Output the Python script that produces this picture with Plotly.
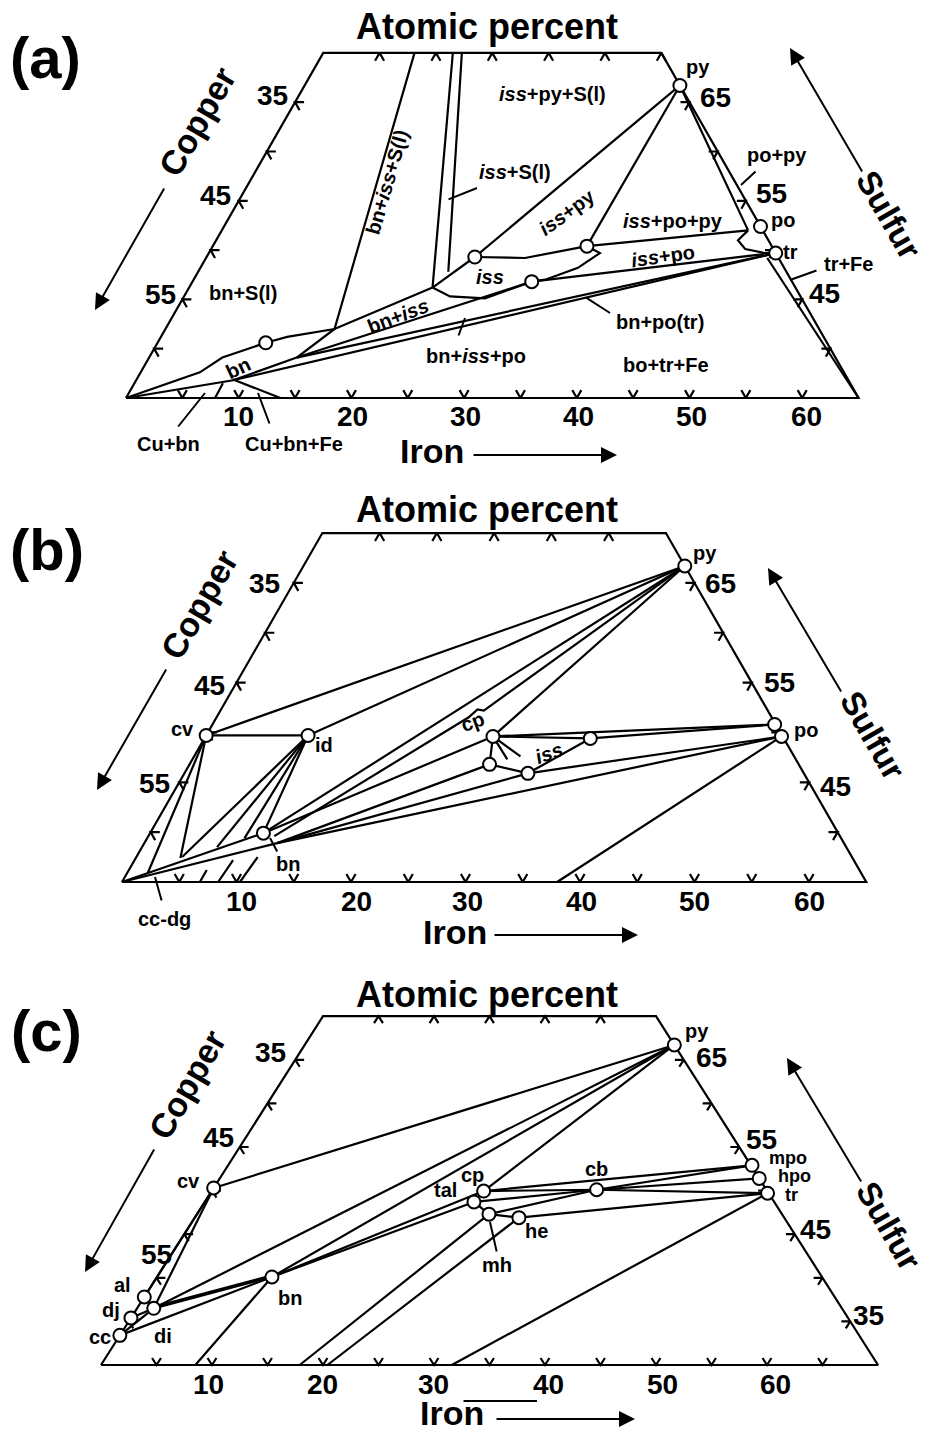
import plotly.graph_objects as go

W, H = 930, 1433
FONT = "Liberation Sans, Arial, sans-serif"

# ---------------- data: compositions (Fe at.%, S at.%) ----------------
# panel (a)
A_NODES = {
    "py": (33.3, 66.7), "po": (47.6, 52.4), "tr": (50.3, 49.7),
    "iss1": (23.8, 49.3), "iss2": (33.2, 50.4), "iss3": (30.1, 46.8),
    "bn": (9.6, 40.6),
}
A_LINES = [
    [(0, 35), (5.25, 37.6), (6.5, 39.1), (9.6, 40.6), (11.2, 41.2), (15.0, 42.0), (21.6, 46.2)],
    [(0, 35), (8.6, 36.8), (13.1, 39.1)],
    [(8.1, 70), (15.0, 42.0), (13.1, 39.1)],
    [(11.5, 70), (21.6, 46.2)],
    [(12.3, 70), (22.2, 47.8)],
    [(21.6, 46.2), (23.8, 49.3)],
    [(21.6, 46.2), (23.6, 45.3), (26.8, 45.1), (30.1, 46.8)],
    [(30.1, 46.8), (31.2, 47.0), (33.5, 48.2), (34.7, 49.7), (33.2, 50.4)],
    [(23.8, 49.3), (28.3, 49.2), (33.2, 50.4)],
    [(33.3, 66.7), (23.8, 49.3)],
    [(33.3, 66.7), (33.2, 50.4)],
    [(33.2, 50.4), (46.7, 52.0)],
    [(33.3, 66.7), (46.7, 52.0)],
    [(46.7, 52.0), (46.3, 51.0), (47.4, 50.1), (49.3, 49.7), (50.3, 49.7)],
    [(30.1, 46.8), (49.3, 49.6)],
    [(13.1, 39.1), (30.1, 46.8)],
    [(13.1, 39.1), (50.3, 49.7)],
    [(8.6, 36.8), (50.3, 49.7)],
    [(49.8, 49.2), (65, 35)],
    [(7.9, 35), (7.85, 36.5)],
    [(8.5, 36.9), (13.7, 35)],
]

# panel (b)
B_NODES = {
    "py": (33.3, 66.7), "cv": (0.0, 49.7), "id": (8.9, 49.7), "bn": (9.9, 39.9),
    "cp": (25.1, 49.6), "issa": (33.7, 49.4), "issb": (26.2, 46.8), "issc": (30.0, 45.9),
    "po1": (49.1, 50.8), "po2": (50.3, 49.6),
}
B_LINES = [
    [(0.0, 49.7), (8.9, 49.7)],
    [(0.0, 49.7), (33.3, 66.7)],
    [(8.9, 49.7), (33.3, 66.7)],
    [(0.0, 49.7), (1.8, 35.9)],
    [(0.0, 49.7), (3.9, 37.4)],
    [(8.9, 49.7), (4.0, 37.5)],
    [(8.9, 49.7), (6.55, 38.5)],
    [(8.9, 49.7), (8.5, 39.4)],
    [(8.9, 49.7), (9.9, 39.9)],
    [(0, 35), (9.9, 39.9)],
    [(0, 35), (11.6, 38.9), (50.3, 49.6)],
    [(9.9, 39.9), (33.3, 66.7)],
    [(11.0, 39.6), (22.0, 51.5), (22.4, 52.3), (23.0, 52.2), (33.3, 66.7)],
    [(9.9, 39.9), (25.1, 49.6)],
    [(25.1, 49.6), (33.3, 66.7)],
    [(25.1, 49.6), (49.1, 50.8)],
    [(25.1, 49.6), (33.7, 49.4), (49.1, 50.8)],
    [(25.1, 49.6), (26.2, 46.8), (30.0, 45.9), (33.7, 49.4)],
    [(25.1, 49.6), (27.5, 47.3)],
    [(25.1, 49.6), (28.5, 47.6)],
    [(30.0, 45.9), (50.3, 49.6)],
    [(11.6, 38.9), (26.2, 46.8)],
    [(11.6, 38.9), (30.0, 45.9)],
    [(38.0, 35), (50.3, 49.6)],
    [(6.8, 35), (6.8, 36.2)],
    [(8.4, 35), (8.6, 37.2)],
    [(10.3, 35), (10.6, 37.5)],
]

# panel (c)
C_NODES = {
    "py": (33.3, 66.7), "cv": (0.0, 50.3), "al": (0.0, 37.8), "dj": (0.0, 35.4),
    "cc": (0.0, 33.4), "di": (1.5, 36.5), "bn": (10.35, 40.1), "tal": (24.25, 48.7),
    "cp": (24.5, 49.95), "mh": (26.3, 47.3), "he": (29.2, 46.9), "cb": (34.6, 50.1),
    "mpo": (47.2, 52.9), "hpo": (48.6, 51.4), "tr": (50.2, 49.7),
}
C_LINES = [
    [(0.0, 50.3), (33.3, 66.7)],
    [(0.0, 50.3), (0.0, 37.8)],
    [(0.0, 50.3), (1.5, 36.5)],
    [(0.0, 33.4), (1.5, 36.5)],
    [(0.0, 35.4), (1.5, 36.5)],
    [(0.0, 37.8), (1.5, 36.5)],
    [(0.0, 33.4), (10.35, 40.1)],
    [(1.5, 36.5), (10.35, 40.1)],
    [(1.5, 36.7), (10.35, 40.3)],
    [(1.5, 36.5), (33.3, 66.7)],
    [(10.35, 40.1), (33.3, 66.7)],
    [(10.35, 40.1), (24.5, 49.95)],
    [(10.35, 40.1), (24.25, 48.7)],
    [(8.5, 30), (10.35, 40.1)],
    [(17.9, 30), (26.3, 47.3)],
    [(20.4, 30), (29.2, 46.9)],
    [(31.6, 30), (50.2, 49.7)],
    [(24.5, 49.95), (33.3, 66.7)],
    [(24.5, 49.95), (47.2, 52.9)],
    [(24.5, 49.95), (34.6, 50.1)],
    [(34.6, 50.1), (47.2, 52.9)],
    [(34.6, 50.1), (48.6, 51.4)],
    [(34.6, 50.1), (50.2, 49.7)],
    [(24.25, 48.7), (34.6, 50.1)],
    [(24.25, 48.7), (26.3, 47.3)],
    [(26.3, 47.3), (29.2, 46.9)],
    [(29.2, 46.9), (50.2, 49.7)],
    [(26.3, 47.3), (34.6, 50.1)],
    [(24.5, 49.95), (24.25, 48.7)],
]

# tick positions (Fe on bottom/top edges, S on left/right edges)
A_TICKS = dict(bottom=[5, 10, 15, 20, 25, 30, 35, 40, 45, 50, 55, 60], top=[5, 10, 15, 20, 25, 30],
               left=[65, 60, 55, 50, 45, 40], right=[65, 60, 55, 50, 45, 40])
B_TICKS = dict(bottom=[5, 10, 15, 20, 25, 30, 35, 40, 45, 50, 55, 60], top=[5, 10, 15, 20, 25],
               left=[65, 60, 55, 50, 45, 40], right=[65, 60, 55, 50, 45, 40])
C_TICKS = dict(bottom=[5, 10, 15, 20, 25, 30, 35, 40, 45, 50, 55, 60, 65], top=[5, 10, 15, 20, 25],
               left=[65, 60, 55, 50, 45, 40, 35], right=[65, 60, 55, 50, 45, 40, 35])

BOTTOM_LABELS = ["10", "20", "30", "40", "50", "60"]

# panel frames (pixel calibration of the composition grid)
PANELS = [
    dict(name="a", X0=126, kx=11.27, Ybot=398, ky=9.86, S0=35, Stop=70, top=0, bot=470,
         nodes=A_NODES, lines=A_LINES, ticks=A_TICKS),
    dict(name="b", X0=122, kx=11.45, Ybot=882, ky=9.97, S0=35, Stop=70, top=470, bot=955,
         nodes=B_NODES, lines=B_LINES, ticks=B_TICKS),
    dict(name="c", X0=101, kx=11.1, Ybot=1365, ky=8.72, S0=30, Stop=70, top=955, bot=1433,
         nodes=C_NODES, lines=C_LINES, ticks=C_TICKS),
]


def proj(fe, s, S0):
    return fe + 0.5 * (s - S0), s


def tick_polys(t, S0, St, d=0.8):
    polys = []
    for fe in t["bottom"]:
        polys.append([(fe, S0 + d), (fe, S0), (fe - d, S0 + d)])
    for fe in t["top"]:
        polys.append([(fe, St - d), (fe, St), (fe + d, St - d)])
    for s in t["left"]:
        polys.append([(d, s), (0, s), (d, s - d)])
    for s in t["right"]:
        polys.append([(100 - s - d, s), (100 - s, s), (100 - s, s - d)])
    return polys


fig = go.Figure()
layout_axes = {}
for i, p in enumerate(PANELS, start=1):
    xa = "x" if i == 1 else f"x{i}"
    ya = "y" if i == 1 else f"y{i}"
    S0, St = p["S0"], p["Stop"]
    frame = [[(0, S0), (100 - S0, S0), (100 - St, St), (0, St), (0, S0)]]
    polys = frame + tick_polys(p["ticks"], S0, St) + p["lines"]
    xs, ys = [], []
    for poly in polys:
        for fe, s in poly:
            x, y = proj(fe, s, S0)
            xs.append(x)
            ys.append(y)
        xs.append(None)
        ys.append(None)
    fig.add_trace(go.Scatter(x=xs, y=ys, mode="lines", xaxis=xa, yaxis=ya,
                             line=dict(color="black", width=2.2), hoverinfo="skip",
                             showlegend=False))
    nx, ny = [], []
    for fe, s in p["nodes"].values():
        x, y = proj(fe, s, S0)
        nx.append(x)
        ny.append(y)
    fig.add_trace(go.Scatter(x=nx, y=ny, mode="markers", xaxis=xa, yaxis=ya,
                             marker=dict(size=13, color="white", line=dict(color="black", width=2)),
                             hoverinfo="skip", showlegend=False, cliponaxis=False))
    xr = [(0 - p["X0"]) / p["kx"], (W - p["X0"]) / p["kx"]]
    yr = [S0 + (p["Ybot"] - p["bot"]) / p["ky"], S0 + (p["Ybot"] - p["top"]) / p["ky"]]
    key = "" if i == 1 else str(i)
    layout_axes["xaxis" + key] = dict(domain=[0, 1], range=xr, visible=False, fixedrange=True,
                                      anchor=ya)
    layout_axes["yaxis" + key] = dict(domain=[1 - p["bot"] / H, 1 - p["top"] / H], range=yr,
                                      visible=False, fixedrange=True, anchor=xa)

ann = []


def label(px, py, text, size=20, angle=0, bold=True):
    t = f"<b>{text}</b>" if bold else text
    ann.append(dict(x=px / W, y=1 - py / H, xref="paper", yref="paper", text=t,
                    showarrow=False, textangle=angle, xanchor="center", yanchor="middle",
                    font=dict(family=FONT, size=size, color="black")))


def arrow(x0, y0, x1, y1, head=True, width=2):
    # tail (x0,y0) -> head (x1,y1), pixels
    ann.append(dict(x=x1 / W, y=1 - y1 / H, xref="paper", yref="paper", text="",
                    showarrow=True, ax=x0 - x1, ay=y0 - y1, axref="pixel", ayref="pixel",
                    arrowhead=2 if head else 0, arrowsize=1.6 if head else 1,
                    arrowwidth=width, arrowcolor="black", standoff=0, startstandoff=0))


# common frame labels
for (tx, ty, letter, tiy, cop, sul, irn, left_nums, right_nums, bottom_xy) in [
    (45, 58, "(a)", 27, (197, 122, 165, 187, 95, 310), (889, 214, 863, 173, 790, 48),
     (432, 451, 472, 455, 617, 455),
     [(272, 95, "35"), (215, 195, "45"), (160, 294, "55")],
     [(715, 97, "65"), (771, 194, "55"), (824, 293, "45")],
     ([238, 352, 465, 578, 691, 806], 416)),
    (47, 550, "(b)", 509, (199, 605, 167, 668, 97, 790), (872, 735, 842, 693, 768, 568),
     (455, 932, 493, 935, 638, 935),
     [(264, 583, "35"), (209, 685, "45"), (154, 783, "55")],
     [(720, 583, "65"), (779, 683, "55"), (835, 786, "45")],
     ([242, 356, 468, 581, 694, 809], 901)),
    (46, 1030, "(c)", 994, (187, 1085, 155, 1148, 85, 1272), (889, 1225, 862, 1183, 787, 1058),
     (452, 1413, 495, 1419, 635, 1419),
     [(270, 1052, "35"), (218, 1137, "45"), (156, 1254, "55")],
     [(711, 1057, "65"), (761, 1139, "55"), (815, 1229, "45"), (868, 1315, "35")],
     ([208, 322, 433, 548, 662, 775], 1384)),
]:
    label(tx, ty, letter, size=58)
    label(487, tiy, "Atomic percent", size=36)
    label(cop[0], cop[1], "Copper", size=34, angle=-60)
    arrow(cop[2], cop[3], cop[4], cop[5])
    label(sul[0], sul[1], "Sulfur", size=33, angle=60)
    arrow(sul[2], sul[3], sul[4], sul[5])
    label(irn[0], irn[1], "Iron", size=34)
    arrow(irn[2], irn[3], irn[4], irn[5])
    for (lx, ly, t) in left_nums + right_nums:
        label(lx, ly, t, size=28)
    for lx, t in zip(bottom_xy[0], BOTTOM_LABELS):
        label(lx, bottom_xy[1], t, size=28)

# panel (a) field labels
for (lx, ly, t, ang) in [
    (243, 293, "bn+S(l)", 0), (238, 368, "bn", -25), (398, 316, "bn+<i>iss</i>", -21),
    (387, 182, "bn+<i>iss</i>+S(l)", -74), (515, 172, "<i>iss</i>+S(l)", 0),
    (552, 94, "<i>iss</i>+py+S(l)", 0), (567, 212, "<i>iss</i>+py", -36),
    (673, 221, "<i>iss</i>+po+py", 0), (663, 256, "<i>iss</i>+po", -8), (490, 277, "<i>iss</i>", 0),
    (660, 322, "bn+po(tr)", 0), (666, 365, "bo+tr+Fe", 0), (476, 356, "bn+<i>iss</i>+po", 0),
    (168, 444, "Cu+bn", 0), (294, 444, "Cu+bn+Fe", 0), (698, 67, "py", 0), (783, 220, "po", 0),
    (790, 252, "tr", 0), (777, 155, "po+py", 0), (848, 264, "tr+Fe", 0),
]:
    label(lx, ly, t, angle=ang)
for seg in [(177, 428, 205, 393), (270, 425, 258, 393), (447, 200, 477, 188), (757, 170, 741, 185),
            (818, 270, 790, 280), (585, 297, 610, 313), (458, 337, 465, 318)]:
    arrow(*seg, head=False)

# panel (b) labels
for (lx, ly, t, ang) in [
    (705, 553, "py", 0), (182, 729, "cv", 0), (324, 745, "id", 0), (288, 864, "bn", 0),
    (472, 722, "cp", -20), (549, 753, "<i>iss</i>", -20), (806, 730, "po", 0), (164, 919, "cc-dg", 0),
]:
    label(lx, ly, t, angle=ang)
for seg in [(162, 902, 155, 877), (278, 853, 270, 838)]:
    arrow(*seg, head=False)

# panel (c) labels
for (lx, ly, t, ang, sz) in [
    (697, 1031, "py", 0, 20), (188, 1181, "cv", 0, 20), (122, 1285, "al", 0, 20),
    (111, 1310, "dj", 0, 20), (100, 1337, "cc", 0, 20), (163, 1336, "di", 0, 20),
    (290, 1298, "bn", 0, 20), (788, 1158, "mpo", 0, 18), (794, 1176, "hpo", 0, 18),
    (791, 1195, "tr", 0, 18), (596, 1169, "cb", 0, 20), (472, 1175, "cp", 0, 20),
    (445, 1190, "tal", 0, 20), (536, 1231, "he", 0, 20), (497, 1265, "mh", 0, 20),
]:
    label(lx, ly, t, size=sz, angle=ang)
for seg in [(497, 1253, 490, 1222), (462, 1401, 537, 1401)]:
    arrow(*seg, head=False)

fig.update_layout(width=W, height=H, margin=dict(l=0, r=0, t=0, b=0),
                  plot_bgcolor="white", paper_bgcolor="white", showlegend=False,
                  annotations=ann, **layout_axes)
fig.write_html("out.html", config={"displayModeBar": False},
               post_script="document.body.style.margin='0';document.body.style.padding='0';")
